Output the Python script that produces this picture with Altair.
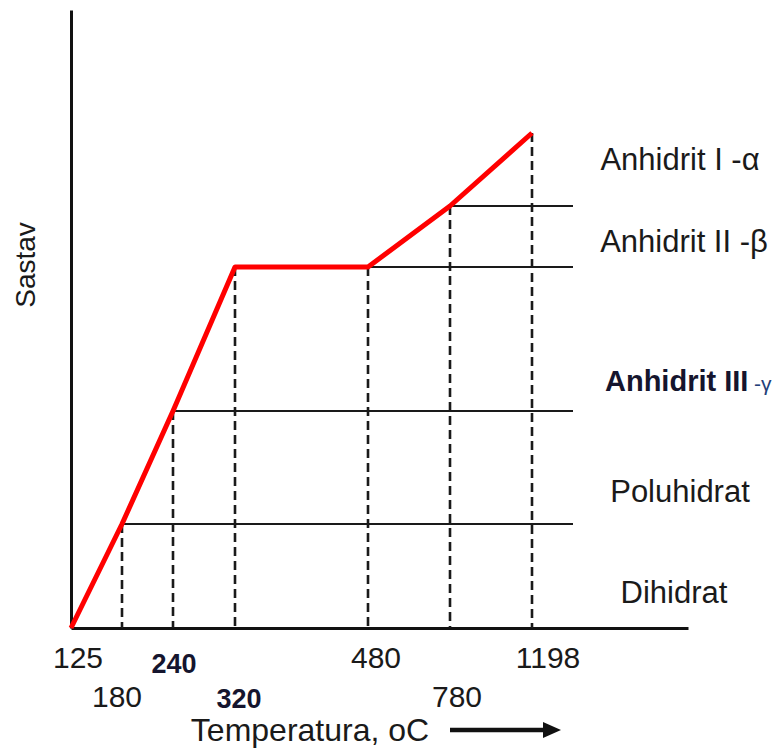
import altair as alt
import pandas as pd

# ---- data (schematic chart units: x measured from the vertical axis, y from the horizontal axis)
break_x = [0, 51, 102, 164, 297, 379, 461]
break_y = [0, 104, 217, 361, 361, 422, 495]

level_y = [104, 217, 361, 422]
level_start = [51, 102, 164, 379]
level_end = [502, 502, 502, 502]

drop_x = [51, 102, 164, 297, 379, 461]
drop_y = [104, 217, 361, 361, 422, 495]

temp_labels = ["125", "480", "1198", "180", "780"]
temp_x = [7, 305, 477, 46, 386]
temp_y = [-40, -40, -40, -79, -79]

temp_bold_labels = ["240", "320"]
temp_bold_x = [103, 168]
temp_bold_y = [-45, -80]

phase_names = ["Anhidrit I -α", "Anhidrit II -β", "Poluhidrat", "Dihidrat"]
phase_x = [609, 613, 609, 603]
phase_y = [458, 376, 126, 25]

bold_phase = ["Anhidrit III"]
bold_phase_x = [534]
bold_phase_y = [237]
gamma_text = ["-γ"]
gamma_x = [683]
gamma_y = [237]

x_title = ["Temperatura, oC"]
x_title_x = [239]
x_title_y = [-113]
y_title = ["Sastav"]
y_title_x = [-36]
y_title_y = [363]

arrow_x = [379]
arrow_x2 = [473]
arrow_y = [-102]
head_x = [481]

X_DOM = [0, 617]
Y_DOM = [0, 618]
FONT = "Liberation Sans"


def X(field):
    return alt.X(f"{field}:Q", scale=alt.Scale(domain=X_DOM, nice=False, zero=False), title=None)


def Y(field):
    return alt.Y(f"{field}:Q", scale=alt.Scale(domain=Y_DOM, nice=False, zero=False), title=None)


curve = pd.DataFrame({"x": break_x, "y": break_y, "o": list(range(len(break_x)))})
levels = pd.DataFrame({"x": level_start, "x2": level_end, "y": level_y})
drops = pd.DataFrame({"x": drop_x, "y": drop_y, "y0": [0] * len(drop_x)})
tl = pd.DataFrame({"t": temp_labels, "x": temp_x, "y": temp_y})
tlb = pd.DataFrame({"t": temp_bold_labels, "x": temp_bold_x, "y": temp_bold_y})
ph = pd.DataFrame({"t": phase_names, "x": phase_x, "y": phase_y})
phb = pd.DataFrame({"t": bold_phase, "x": bold_phase_x, "y": bold_phase_y})
gam = pd.DataFrame({"t": gamma_text, "x": gamma_x, "y": gamma_y})
xt = pd.DataFrame({"t": x_title, "x": x_title_x, "y": x_title_y})
yt = pd.DataFrame({"t": y_title, "x": y_title_x, "y": y_title_y})
arr = pd.DataFrame({"x": arrow_x, "x2": arrow_x2, "y": arrow_y, "hx": head_x})

level_rules = alt.Chart(levels).mark_rule(color="#1a1a1a", strokeWidth=1.8).encode(
    x=X("x"), x2="x2:Q", y=Y("y")
)
drop_rules = alt.Chart(drops).mark_rule(color="#1a1a1a", strokeWidth=2.6, strokeDash=[9, 5]).encode(
    x=X("x"), y=Y("y"), y2="y0:Q"
)
red_line = alt.Chart(curve).mark_line(color="#ff0000", strokeWidth=5, strokeJoin="round").encode(
    x=X("x"), y=Y("y"), order="o:Q"
)

temp_text = alt.Chart(tl).mark_text(
    font=FONT, fontSize=30, color="#1a1a1a", align="center", baseline="alphabetic"
).encode(x=X("x"), y=Y("y"), text="t:N")
temp_text_b = alt.Chart(tlb).mark_text(
    font=FONT, fontSize=27, fontWeight="bold", color="#15152e", align="center", baseline="alphabetic"
).encode(x=X("x"), y=Y("y"), text="t:N")

phase_text = alt.Chart(ph).mark_text(
    font=FONT, fontSize=31, color="#1a1a1a", align="center", baseline="alphabetic"
).encode(x=X("x"), y=Y("y"), text="t:N")
phase_text_b = alt.Chart(phb).mark_text(
    font=FONT, fontSize=29, fontWeight="bold", color="#15152e", align="left", baseline="alphabetic"
).encode(x=X("x"), y=Y("y"), text="t:N")
gamma_t = alt.Chart(gam).mark_text(
    font=FONT, fontSize=21, color="#233f7a", align="left", baseline="alphabetic"
).encode(x=X("x"), y=Y("y"), text="t:N")

x_title_t = alt.Chart(xt).mark_text(
    font=FONT, fontSize=32, color="#1a1a1a", align="center", baseline="alphabetic"
).encode(x=X("x"), y=Y("y"), text="t:N")
y_title_t = alt.Chart(yt).mark_text(
    font=FONT, fontSize=28, color="#1a1a1a", align="center", baseline="alphabetic", angle=270
).encode(x=X("x"), y=Y("y"), text="t:N")

arrow_shaft = alt.Chart(arr).mark_rule(color="#111", strokeWidth=4.5).encode(
    x=X("x"), x2="x2:Q", y=Y("y")
)
arrow_head = alt.Chart(arr).mark_point(
    shape="M -1 -0.9 L 1 0 L -1 0.9 Z", filled=True, color="#111", size=324, opacity=1
).encode(x=X("hx"), y=Y("y"))

chart = alt.layer(
    level_rules, drop_rules, red_line,
    temp_text, temp_text_b, phase_text, phase_text_b, gamma_t,
    x_title_t, y_title_t, arrow_shaft, arrow_head,
).properties(
    width=617, height=618,
    autosize=alt.AutoSizeParams(type="none"),
    padding={"left": 63, "top": 2, "right": 88, "bottom": 120},
).configure_axis(
    domain=True, domainWidth=3, domainColor="#111", ticks=False, labels=False, grid=False
).configure_view(stroke=None)

chart.save("out.html", embed_options={"renderer": "svg", "actions": False})
